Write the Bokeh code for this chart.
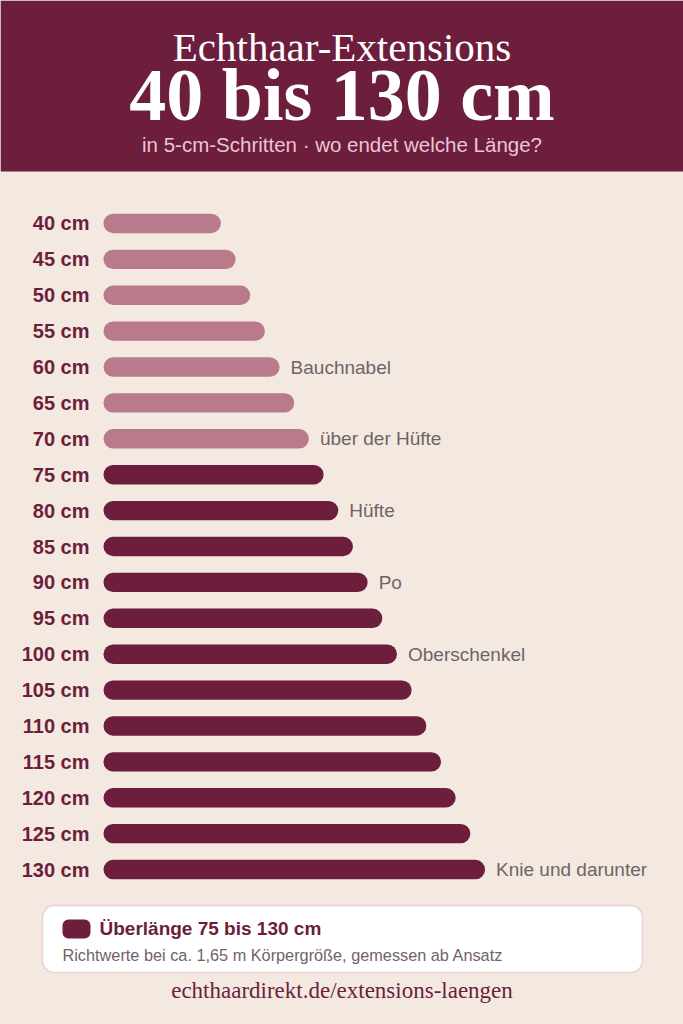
from bokeh.plotting import figure
from bokeh.models import ColumnDataSource, FactorRange, Range1d, Label, GlobalInlineStyleSheet
from bokeh.layouts import column
from bokeh.embed import file_html
from bokeh.resources import INLINE
from bokeh.core.properties import value

# ---------------- data ----------------
lengths = [40, 45, 50, 55, 60, 65, 70, 75, 80, 85, 90, 95, 100, 105, 110, 115, 120, 125, 130]
tick_labels = ["40 cm", "45 cm", "50 cm", "55 cm", "60 cm", "65 cm", "70 cm", "75 cm", "80 cm",
               "85 cm", "90 cm", "95 cm", "100 cm", "105 cm", "110 cm", "115 cm", "120 cm",
               "125 cm", "130 cm"]
groups = ["Standard"] * 7 + ["Überlänge"] * 12
note_lengths = [60, 70, 80, 90, 100, 130]
note_labels = ["60 cm", "70 cm", "80 cm", "90 cm", "100 cm", "130 cm"]
note_texts = ["Bauchnabel", "über der Hüfte", "Hüfte", "Po", "Oberschenkel", "Knie und darunter"]

# ---------------- style ----------------
DARK = "#6c1e3c"
LIGHT = "#b97a8c"
BEIGE = "#f3e9e1"
GRAY = "#6f6368"
SUB = "#e9c6d3"
W = 683
group_colors = {"Standard": LIGHT, "Überlänge": DARK}


def blank(h, fill):
    f = figure(width=W, height=h, x_range=Range1d(0, W), y_range=Range1d(h, 0), title=None,
               toolbar_location=None, output_backend="svg", min_border=0)
    f.axis.visible = False
    f.grid.visible = False
    f.outline_line_color = None
    f.background_fill_color = fill
    f.border_fill_color = fill
    return f


# ---------------- header ----------------
head = blank(205, BEIGE)
head.quad(left=0, right=W, top=0, bottom=171, fill_color=DARK, line_color=None)
head.add_layout(Label(x=341.5, y=46, text="Echthaar-Extensions", text_align="center",
                      text_baseline="alphabetic", text_font="Liberation Serif",
                      text_font_size="41px", text_color="white"))
head.add_layout(Label(x=341.5, y=94, text="40 bis 130 cm", text_align="center",
                      text_baseline="alphabetic", text_font="Liberation Serif",
                      text_font_style="bold", text_font_size="74px", text_color="white"))
head.add_layout(Label(x=341.5, y=144, text="in 5-cm-Schritten · wo endet welche Länge?",
                      text_align="center", text_baseline="alphabetic",
                      text_font="Liberation Sans", text_font_size="20.5px", text_color=SUB))

# ---------------- chart ----------------
src = ColumnDataSource(dict(label=tick_labels, length=lengths,
                            color=[group_colors[g] for g in groups]))
note_src = ColumnDataSource(dict(label=note_labels, length=note_lengths, note=note_texts))

p = figure(width=W, height=682, y_range=FactorRange(factors=list(reversed(tick_labels))),
           x_range=Range1d(-35.09, 197.62), title=None, toolbar_location=None,
           output_backend="svg", min_border=0)
p.hbar(y="label", left=0, right="length", height=0.54, fill_color="color", line_color=None,
       border_radius=10, source=src)
# category labels (left of the bars)
p.text(x=0, y="label", text="label", x_offset=-14, text_baseline="middle",
       text_align="right", text_font=value("Liberation Sans"), text_font_style="bold",
       text_font_size="20px", text_color=DARK, source=src)
# body-position notes
p.text(x="length", y="label", text="note", x_offset=11, text_baseline="middle",
       text_align="left", text_font=value("Liberation Sans"), text_font_size="19px",
       text_color=GRAY, source=note_src)
p.axis.visible = False
p.grid.visible = False
p.outline_line_color = None
p.background_fill_color = BEIGE
p.border_fill_color = BEIGE

# ---------------- footer ----------------
foot = blank(137, BEIGE)
foot.quad(left=42, right=642, top=18, bottom=85, fill_color="white", line_color="#ecd0d8",
          line_width=1.5, border_radius=12)
foot.quad(left=62, right=90, top=32, bottom=51, fill_color=DARK, line_color=None,
          border_radius=6)
foot.add_layout(Label(x=99, y=41, text="Überlänge 75 bis 130 cm", text_align="left",
                      text_baseline="alphabetic", text_font="Liberation Sans",
                      text_font_style="bold", text_font_size="19px", text_color=DARK))
foot.add_layout(Label(x=62, y=67.5, text="Richtwerte bei ca. 1,65 m Körpergröße, gemessen ab Ansatz",
                      text_align="left", text_baseline="alphabetic", text_font="Liberation Sans",
                      text_font_size="16.3px", text_color=GRAY))
foot.add_layout(Label(x=341.5, y=103, text="echthaardirekt.de/extensions-laengen",
                      text_align="center", text_baseline="alphabetic", text_font="Liberation Serif",
                      text_font_size="23px", text_color=DARK))

layout = column(head, p, foot, spacing=0,
                stylesheets=[GlobalInlineStyleSheet(
                    css="body { margin: 0; background: #f3e9e1; }")])

open("out.html", "w").write(file_html(layout, INLINE))
